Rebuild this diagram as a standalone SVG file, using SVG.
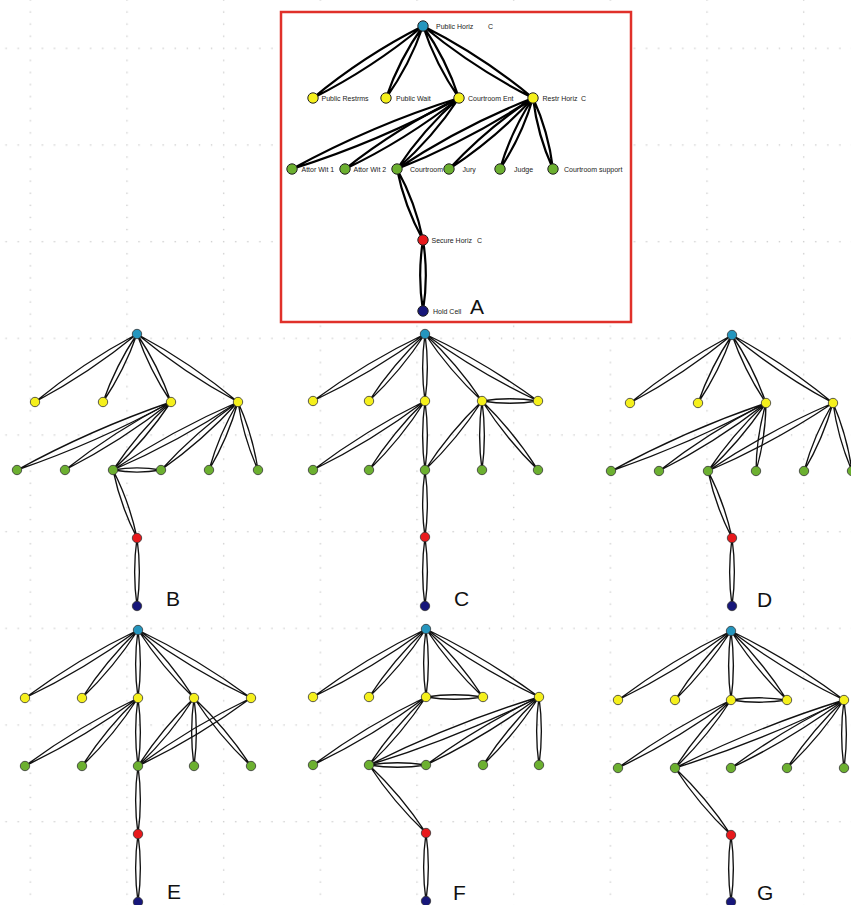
<svg xmlns="http://www.w3.org/2000/svg" width="851" height="905" viewBox="0 0 851 905">
<defs>
<pattern id="grid" patternUnits="userSpaceOnUse" x="29.6" y="47.6" width="96.67" height="96.67">
<g fill="#cfcfcf">
<rect x="0" y="0" width="1.4" height="1.4"/><rect x="12.08" y="0" width="1.4" height="1.4"/><rect x="24.17" y="0" width="1.4" height="1.4"/><rect x="36.25" y="0" width="1.4" height="1.4"/><rect x="48.33" y="0" width="1.4" height="1.4"/><rect x="60.42" y="0" width="1.4" height="1.4"/><rect x="72.5" y="0" width="1.4" height="1.4"/><rect x="84.58" y="0" width="1.4" height="1.4"/>
<rect x="0" y="12.08" width="1.4" height="1.4"/><rect x="0" y="24.17" width="1.4" height="1.4"/><rect x="0" y="36.25" width="1.4" height="1.4"/><rect x="0" y="48.33" width="1.4" height="1.4"/><rect x="0" y="60.42" width="1.4" height="1.4"/><rect x="0" y="72.5" width="1.4" height="1.4"/><rect x="0" y="84.58" width="1.4" height="1.4"/>
</g>
</pattern>
<style>
.ea{fill:none;stroke:#000;stroke-width:2.2}
.e{fill:none;stroke:#111;stroke-width:1.35}
.n circle{stroke:#333;stroke-width:.8}
.na circle{stroke:#222;stroke-width:1}
.cy{fill:#2596be}.ye{fill:#f5f01c}.gr{fill:#6cb030}.rd{fill:#e8191c}.nv{fill:#17177a}
.lbl{font-family:"Liberation Sans",Arial,sans-serif;font-size:7px;fill:#222}
.big{font-family:"Liberation Sans",Arial,sans-serif;font-size:21px;fill:#111}
</style>
</defs>
<rect width="851" height="905" fill="#fff"/>
<rect width="851" height="905" fill="url(#grid)"/>

<!-- Panel A -->
<rect x="281" y="12" width="350" height="310" fill="#fff" stroke="#e0302a" stroke-width="2.5"/>
<g id="edges-A">
<path class="ea" d="M423 26A582 582 0 0 1 313 98A582 582 0 0 1 423 26"/>
<path class="ea" d="M423 26A278 278 0 0 1 386 98A278 278 0 0 1 423 26"/>
<path class="ea" d="M423 26A276 276 0 0 1 459 98A276 276 0 0 1 423 26"/>
<path class="ea" d="M423 26A582 582 0 0 1 533 98A582 582 0 0 1 423 26"/>
<path class="ea" d="M459 98A922 922 0 0 1 292 169A922 922 0 0 1 459 98"/>
<path class="ea" d="M459 98A601 601 0 0 1 345 169A601 601 0 0 1 459 98"/>
<path class="ea" d="M459 98A353 353 0 0 1 397 169A353 353 0 0 1 459 98"/>
<path class="ea" d="M533 98A728 728 0 0 1 397 169A728 728 0 0 1 533 98"/>
<path class="ea" d="M533 98A447 447 0 0 1 449 169A447 447 0 0 1 533 98"/>
<path class="ea" d="M533 98A263 263 0 0 1 500 169A263 263 0 0 1 533 98"/>
<path class="ea" d="M533 98A240 240 0 0 1 553 169A240 240 0 0 1 533 98"/>
<path class="ea" d="M397 169A249 249 0 0 1 423 240A249 249 0 0 1 397 169"/>
<path class="ea" d="M423 240A225 225 0 0 1 423 311A225 225 0 0 1 423 240"/>
</g>
<g id="A-public-horiz" class="na"><circle class="cy" cx="423" cy="26" r="5.2"/><text class="lbl" x="436" y="28.5">Public Horiz<tspan x="488">C</tspan></text></g>
<g id="A-public-restrms" class="na"><circle class="ye" cx="313" cy="98" r="5.2"/><text class="lbl" x="321.5" y="100.5">Public Restrms</text></g>
<g id="A-public-wait" class="na"><circle class="ye" cx="386" cy="98" r="5.2"/><text class="lbl" x="396" y="100.5">Public Wait</text></g>
<g id="A-courtroom-ent" class="na"><circle class="ye" cx="459" cy="98" r="5.2"/><text class="lbl" x="468" y="100.5">Courtroom Ent</text></g>
<g id="A-restr-horiz" class="na"><circle class="ye" cx="533" cy="98" r="5.2"/><text class="lbl" x="542.5" y="100.5">Restr Horiz<tspan x="581">C</tspan></text></g>
<g id="A-attor-wit-1" class="na"><circle class="gr" cx="292" cy="169" r="5.2"/><text class="lbl" x="301.5" y="171.5">Attor Wit 1</text></g>
<g id="A-attor-wit-2" class="na"><circle class="gr" cx="345" cy="169" r="5.2"/><text class="lbl" x="353.5" y="171.5">Attor Wit 2</text></g>
<g id="A-courtroom" class="na"><circle class="gr" cx="397" cy="169" r="5.2"/><text class="lbl" x="410" y="171.5">Courtroom</text></g>
<g id="A-jury" class="na"><circle class="gr" cx="449" cy="169" r="5.2"/><text class="lbl" x="462.5" y="171.5">Jury</text></g>
<g id="A-judge" class="na"><circle class="gr" cx="500" cy="169" r="5.2"/><text class="lbl" x="514" y="171.5">Judge</text></g>
<g id="A-courtroom-support" class="na"><circle class="gr" cx="553" cy="169" r="5.2"/><text class="lbl" x="564" y="171.5">Courtroom support</text></g>
<g id="A-secure-horiz" class="na"><circle class="rd" cx="423" cy="240" r="5.2"/><text class="lbl" x="431.5" y="242.5">Secure Horiz<tspan x="477">C</tspan></text></g>
<g id="A-hold-cell" class="na"><circle class="nv" cx="423" cy="311" r="5.2"/><text class="lbl" x="433" y="313.5">Hold Cell</text></g>
<text class="big" x="470" y="314">A</text>

<!-- Panel B -->
<g id="edges-B">
<path class="e" d="M137 334A620 620 0 0 1 35 402A620 620 0 0 1 137 334"/>
<path class="e" d="M137 334A296 296 0 0 1 103 402A296 296 0 0 1 137 334"/>
<path class="e" d="M137 334A296 296 0 0 1 171 402A296 296 0 0 1 137 334"/>
<path class="e" d="M137 334A612 612 0 0 1 238 402A612 612 0 0 1 137 334"/>
<path class="e" d="M171 402A985 985 0 0 1 17 470A985 985 0 0 1 171 402"/>
<path class="e" d="M171 402A647 647 0 0 1 65 470A647 647 0 0 1 171 402"/>
<path class="e" d="M171 402A383 383 0 0 1 113 470A383 383 0 0 1 171 402"/>
<path class="e" d="M238 402A775 775 0 0 1 113 470A775 775 0 0 1 238 402"/>
<path class="e" d="M238 402A474 474 0 0 1 161 470A474 474 0 0 1 238 402"/>
<path class="e" d="M238 402A283 283 0 0 1 209 470A283 283 0 0 1 238 402"/>
<path class="e" d="M238 402A264 264 0 0 1 258 470A264 264 0 0 1 238 402"/>
<path class="e" d="M113 470A138 138 0 0 1 161 470A138 138 0 0 1 113 470"/>
<path class="e" d="M113 470A270 270 0 0 1 137 538A270 270 0 0 1 113 470"/>
<path class="e" d="M137 538A247 247 0 0 1 137 606A247 247 0 0 1 137 538"/>
</g>
<g id="B-t" class="n"><circle class="cy" cx="137" cy="334" r="4.7"/></g>
<g id="B-y1" class="n"><circle class="ye" cx="35" cy="402" r="4.7"/></g>
<g id="B-y2" class="n"><circle class="ye" cx="103" cy="402" r="4.7"/></g>
<g id="B-y3" class="n"><circle class="ye" cx="171" cy="402" r="4.7"/></g>
<g id="B-y4" class="n"><circle class="ye" cx="238" cy="402" r="4.7"/></g>
<g id="B-g1" class="n"><circle class="gr" cx="17" cy="470" r="4.7"/></g>
<g id="B-g2" class="n"><circle class="gr" cx="65" cy="470" r="4.7"/></g>
<g id="B-g3" class="n"><circle class="gr" cx="113" cy="470" r="4.7"/></g>
<g id="B-g4" class="n"><circle class="gr" cx="161" cy="470" r="4.7"/></g>
<g id="B-g5" class="n"><circle class="gr" cx="209" cy="470" r="4.7"/></g>
<g id="B-g6" class="n"><circle class="gr" cx="258" cy="470" r="4.7"/></g>
<g id="B-r" class="n"><circle class="rd" cx="137" cy="538" r="4.7"/></g>
<g id="B-n" class="n"><circle class="nv" cx="137" cy="606" r="4.7"/></g>
<text class="big" x="166" y="606">B</text>

<!-- Panel C -->
<g id="edges-C">
<path class="e" d="M425 334A682 682 0 0 1 313 401A682 682 0 0 1 425 334"/>
<path class="e" d="M425 334A369 369 0 0 1 369 401A369 369 0 0 1 425 334"/>
<path class="e" d="M425 334A241 241 0 0 1 425 401A241 241 0 0 1 425 334"/>
<path class="e" d="M425 334A375 375 0 0 1 482 401A375 375 0 0 1 425 334"/>
<path class="e" d="M425 334A690 690 0 0 1 538 401A690 690 0 0 1 425 334"/>
<path class="e" d="M482 401A180 180 0 0 1 538 401A180 180 0 0 1 482 401"/>
<path class="e" d="M425 401A690 690 0 0 1 313 470A690 690 0 0 1 425 401"/>
<path class="e" d="M425 401A381 381 0 0 1 369 470A381 381 0 0 1 425 401"/>
<path class="e" d="M425 401A253 253 0 0 1 425 470A253 253 0 0 1 425 401"/>
<path class="e" d="M482 401A384 384 0 0 1 425 470A384 384 0 0 1 482 401"/>
<path class="e" d="M482 401A253 253 0 0 1 482 470A253 253 0 0 1 482 401"/>
<path class="e" d="M482 401A381 381 0 0 1 538 470A381 381 0 0 1 482 401"/>
<path class="e" d="M425 470A241 241 0 0 1 425 537A241 241 0 0 1 425 470"/>
<path class="e" d="M425 537A253 253 0 0 1 425 606A253 253 0 0 1 425 537"/>
</g>
<g id="C-t" class="n"><circle class="cy" cx="425" cy="334" r="4.7"/></g>
<g id="C-y1" class="n"><circle class="ye" cx="313" cy="401" r="4.7"/></g>
<g id="C-y2" class="n"><circle class="ye" cx="369" cy="401" r="4.7"/></g>
<g id="C-y3" class="n"><circle class="ye" cx="425" cy="401" r="4.7"/></g>
<g id="C-y4" class="n"><circle class="ye" cx="482" cy="401" r="4.7"/></g>
<g id="C-y5" class="n"><circle class="ye" cx="538" cy="401" r="4.7"/></g>
<g id="C-g1" class="n"><circle class="gr" cx="313" cy="470" r="4.7"/></g>
<g id="C-g2" class="n"><circle class="gr" cx="369" cy="470" r="4.7"/></g>
<g id="C-g3" class="n"><circle class="gr" cx="425" cy="470" r="4.7"/></g>
<g id="C-g4" class="n"><circle class="gr" cx="482" cy="470" r="4.7"/></g>
<g id="C-g5" class="n"><circle class="gr" cx="538" cy="470" r="4.7"/></g>
<g id="C-r" class="n"><circle class="rd" cx="425" cy="537" r="4.7"/></g>
<g id="C-n" class="n"><circle class="nv" cx="425" cy="606" r="4.7"/></g>
<text class="big" x="454" y="606">C</text>

<!-- Panel D -->
<g id="edges-D">
<path class="e" d="M732 335A620 620 0 0 1 630 403A620 620 0 0 1 732 335"/>
<path class="e" d="M732 335A296 296 0 0 1 698 403A296 296 0 0 1 732 335"/>
<path class="e" d="M732 335A296 296 0 0 1 766 403A296 296 0 0 1 732 335"/>
<path class="e" d="M732 335A612 612 0 0 1 833 403A612 612 0 0 1 732 335"/>
<path class="e" d="M766 403A994 994 0 0 1 611 471A994 994 0 0 1 766 403"/>
<path class="e" d="M766 403A655 655 0 0 1 659 471A655 655 0 0 1 766 403"/>
<path class="e" d="M766 403A383 383 0 0 1 708 471A383 383 0 0 1 766 403"/>
<path class="e" d="M766 403A251 251 0 0 1 756 471A251 251 0 0 1 766 403"/>
<path class="e" d="M833 403A775 775 0 0 1 708 471A775 775 0 0 1 833 403"/>
<path class="e" d="M833 403A283 283 0 0 1 804 471A283 283 0 0 1 833 403"/>
<path class="e" d="M833 403A263 263 0 0 1 852 471A263 263 0 0 1 833 403"/>
<path class="e" d="M708 471A265 265 0 0 1 732 538A265 265 0 0 1 708 471"/>
<path class="e" d="M732 538A247 247 0 0 1 732 606A247 247 0 0 1 732 538"/>
</g>
<g id="D-t" class="n"><circle class="cy" cx="732" cy="335" r="4.7"/></g>
<g id="D-y1" class="n"><circle class="ye" cx="630" cy="403" r="4.7"/></g>
<g id="D-y2" class="n"><circle class="ye" cx="698" cy="403" r="4.7"/></g>
<g id="D-y3" class="n"><circle class="ye" cx="766" cy="403" r="4.7"/></g>
<g id="D-y4" class="n"><circle class="ye" cx="833" cy="403" r="4.7"/></g>
<g id="D-g1" class="n"><circle class="gr" cx="611" cy="471" r="4.7"/></g>
<g id="D-g2" class="n"><circle class="gr" cx="659" cy="471" r="4.7"/></g>
<g id="D-g3" class="n"><circle class="gr" cx="708" cy="471" r="4.7"/></g>
<g id="D-g4" class="n"><circle class="gr" cx="756" cy="471" r="4.7"/></g>
<g id="D-g5" class="n"><circle class="gr" cx="804" cy="471" r="4.7"/></g>
<g id="D-g6" class="n"><circle class="gr" cx="852" cy="471" r="4.7"/></g>
<g id="D-r" class="n"><circle class="rd" cx="732" cy="538" r="4.7"/></g>
<g id="D-n" class="n"><circle class="nv" cx="732" cy="606" r="4.7"/></g>
<text class="big" x="757" y="607">D</text>

<!-- Panel E -->
<g id="edges-E">
<path class="e" d="M138 630A692 692 0 0 1 25 698A692 692 0 0 1 138 630"/>
<path class="e" d="M138 630A376 376 0 0 1 82 698A376 376 0 0 1 138 630"/>
<path class="e" d="M138 630A247 247 0 0 1 138 698A247 247 0 0 1 138 630"/>
<path class="e" d="M138 630A376 376 0 0 1 194 698A376 376 0 0 1 138 630"/>
<path class="e" d="M138 630A692 692 0 0 1 251 698A692 692 0 0 1 138 630"/>
<path class="e" d="M138 698A692 692 0 0 1 25 766A692 692 0 0 1 138 698"/>
<path class="e" d="M138 698A376 376 0 0 1 82 766A376 376 0 0 1 138 698"/>
<path class="e" d="M138 698A247 247 0 0 1 138 766A247 247 0 0 1 138 698"/>
<path class="e" d="M194 698A376 376 0 0 1 138 766A376 376 0 0 1 194 698"/>
<path class="e" d="M194 698A247 247 0 0 1 194 766A247 247 0 0 1 194 698"/>
<path class="e" d="M194 698A380 380 0 0 1 251 766A380 380 0 0 1 194 698"/>
<path class="e" d="M251 698A692 692 0 0 1 138 766A692 692 0 0 1 251 698"/>
<path class="e" d="M138 766A247 247 0 0 1 138 834A247 247 0 0 1 138 766"/>
<path class="e" d="M138 834A247 247 0 0 1 138 902A247 247 0 0 1 138 834"/>
</g>
<g id="E-t" class="n"><circle class="cy" cx="138" cy="630" r="4.7"/></g>
<g id="E-y1" class="n"><circle class="ye" cx="25" cy="698" r="4.7"/></g>
<g id="E-y2" class="n"><circle class="ye" cx="82" cy="698" r="4.7"/></g>
<g id="E-y3" class="n"><circle class="ye" cx="138" cy="698" r="4.7"/></g>
<g id="E-y4" class="n"><circle class="ye" cx="194" cy="698" r="4.7"/></g>
<g id="E-y5" class="n"><circle class="ye" cx="251" cy="698" r="4.7"/></g>
<g id="E-g1" class="n"><circle class="gr" cx="25" cy="766" r="4.7"/></g>
<g id="E-g2" class="n"><circle class="gr" cx="82" cy="766" r="4.7"/></g>
<g id="E-g3" class="n"><circle class="gr" cx="138" cy="766" r="4.7"/></g>
<g id="E-g4" class="n"><circle class="gr" cx="194" cy="766" r="4.7"/></g>
<g id="E-g5" class="n"><circle class="gr" cx="251" cy="766" r="4.7"/></g>
<g id="E-r" class="n"><circle class="rd" cx="138" cy="834" r="4.7"/></g>
<g id="E-n" class="n"><circle class="nv" cx="138" cy="902" r="4.7"/></g>
<text class="big" x="167" y="899">E</text>

<!-- Panel F -->
<g id="edges-F">
<path class="e" d="M426 629A692 692 0 0 1 313 697A692 692 0 0 1 426 629"/>
<path class="e" d="M426 629A380 380 0 0 1 369 697A380 380 0 0 1 426 629"/>
<path class="e" d="M426 629A247 247 0 0 1 426 697A247 247 0 0 1 426 629"/>
<path class="e" d="M426 629A380 380 0 0 1 483 697A380 380 0 0 1 426 629"/>
<path class="e" d="M426 629A692 692 0 0 1 539 697A692 692 0 0 1 426 629"/>
<path class="e" d="M426 697A185 185 0 0 1 483 697A185 185 0 0 1 426 697"/>
<path class="e" d="M426 697A692 692 0 0 1 313 765A692 692 0 0 1 426 697"/>
<path class="e" d="M426 697A380 380 0 0 1 369 765A380 380 0 0 1 426 697"/>
<path class="e" d="M539 697A1108 1108 0 0 1 369 765A1108 1108 0 0 1 539 697"/>
<path class="e" d="M539 697A692 692 0 0 1 426 765A692 692 0 0 1 539 697"/>
<path class="e" d="M539 697A376 376 0 0 1 483 765A376 376 0 0 1 539 697"/>
<path class="e" d="M539 697A247 247 0 0 1 539 765A247 247 0 0 1 539 697"/>
<path class="e" d="M369 765A185 185 0 0 1 426 765A185 185 0 0 1 369 765"/>
<path class="e" d="M369 765A380 380 0 0 1 426 833A380 380 0 0 1 369 765"/>
<path class="e" d="M426 833A247 247 0 0 1 426 901A247 247 0 0 1 426 833"/>
</g>
<g id="F-t" class="n"><circle class="cy" cx="426" cy="629" r="4.7"/></g>
<g id="F-y1" class="n"><circle class="ye" cx="313" cy="697" r="4.7"/></g>
<g id="F-y2" class="n"><circle class="ye" cx="369" cy="697" r="4.7"/></g>
<g id="F-y3" class="n"><circle class="ye" cx="426" cy="697" r="4.7"/></g>
<g id="F-y4" class="n"><circle class="ye" cx="483" cy="697" r="4.7"/></g>
<g id="F-y5" class="n"><circle class="ye" cx="539" cy="697" r="4.7"/></g>
<g id="F-g1" class="n"><circle class="gr" cx="313" cy="765" r="4.7"/></g>
<g id="F-g2" class="n"><circle class="gr" cx="369" cy="765" r="4.7"/></g>
<g id="F-g3" class="n"><circle class="gr" cx="426" cy="765" r="4.7"/></g>
<g id="F-g4" class="n"><circle class="gr" cx="483" cy="765" r="4.7"/></g>
<g id="F-g5" class="n"><circle class="gr" cx="539" cy="765" r="4.7"/></g>
<g id="F-r" class="n"><circle class="rd" cx="426" cy="833" r="4.7"/></g>
<g id="F-n" class="n"><circle class="nv" cx="426" cy="901" r="4.7"/></g>
<text class="big" x="453" y="900">F</text>

<!-- Panel G -->
<g id="edges-G">
<path class="e" d="M731 631A697 697 0 0 1 618 700A697 697 0 0 1 731 631"/>
<path class="e" d="M731 631A381 381 0 0 1 675 700A381 381 0 0 1 731 631"/>
<path class="e" d="M731 631A253 253 0 0 1 731 700A253 253 0 0 1 731 631"/>
<path class="e" d="M731 631A381 381 0 0 1 787 700A381 381 0 0 1 731 631"/>
<path class="e" d="M731 631A697 697 0 0 1 844 700A697 697 0 0 1 731 631"/>
<path class="e" d="M731 700A180 180 0 0 1 787 700A180 180 0 0 1 731 700"/>
<path class="e" d="M731 700A692 692 0 0 1 618 768A692 692 0 0 1 731 700"/>
<path class="e" d="M731 700A376 376 0 0 1 675 768A376 376 0 0 1 731 700"/>
<path class="e" d="M844 700A1100 1100 0 0 1 675 768A1100 1100 0 0 1 844 700"/>
<path class="e" d="M844 700A692 692 0 0 1 731 768A692 692 0 0 1 844 700"/>
<path class="e" d="M844 700A380 380 0 0 1 787 768A380 380 0 0 1 844 700"/>
<path class="e" d="M844 700A247 247 0 0 1 844 768A247 247 0 0 1 844 700"/>
<path class="e" d="M675 768A369 369 0 0 1 731 835A369 369 0 0 1 675 768"/>
<path class="e" d="M731 835A241 241 0 0 1 731 902A241 241 0 0 1 731 835"/>
</g>
<g id="G-t" class="n"><circle class="cy" cx="731" cy="631" r="4.7"/></g>
<g id="G-y1" class="n"><circle class="ye" cx="618" cy="700" r="4.7"/></g>
<g id="G-y2" class="n"><circle class="ye" cx="675" cy="700" r="4.7"/></g>
<g id="G-y3" class="n"><circle class="ye" cx="731" cy="700" r="4.7"/></g>
<g id="G-y4" class="n"><circle class="ye" cx="787" cy="700" r="4.7"/></g>
<g id="G-y5" class="n"><circle class="ye" cx="844" cy="700" r="4.7"/></g>
<g id="G-g1" class="n"><circle class="gr" cx="618" cy="768" r="4.7"/></g>
<g id="G-g2" class="n"><circle class="gr" cx="675" cy="768" r="4.7"/></g>
<g id="G-g3" class="n"><circle class="gr" cx="731" cy="768" r="4.7"/></g>
<g id="G-g4" class="n"><circle class="gr" cx="787" cy="768" r="4.7"/></g>
<g id="G-g5" class="n"><circle class="gr" cx="844" cy="768" r="4.7"/></g>
<g id="G-r" class="n"><circle class="rd" cx="731" cy="835" r="4.7"/></g>
<g id="G-n" class="n"><circle class="nv" cx="731" cy="902" r="4.7"/></g>
<text class="big" x="757" y="900">G</text>
</svg>
